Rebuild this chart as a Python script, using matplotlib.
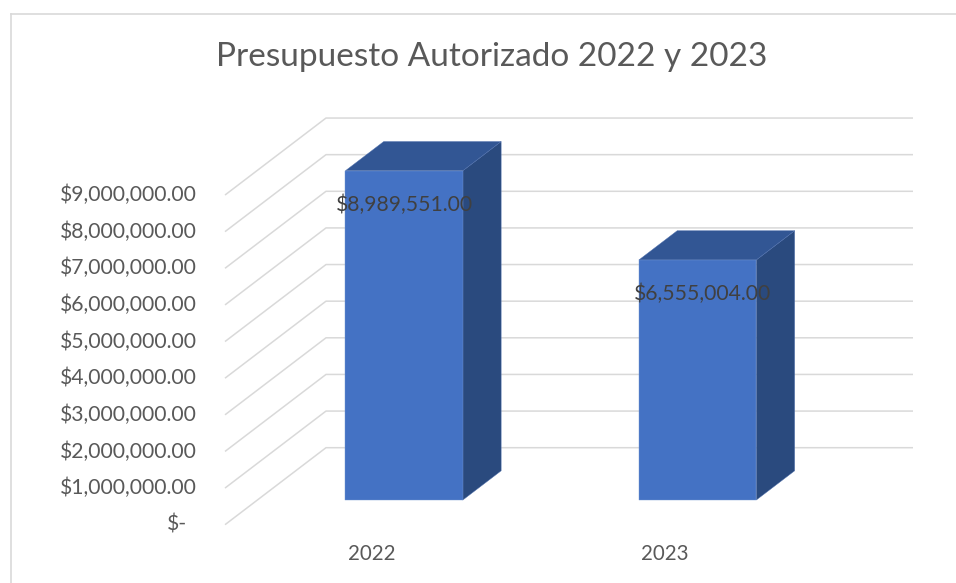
import matplotlib
matplotlib.use("Agg")
import matplotlib.pyplot as plt
from matplotlib.patches import Polygon
from matplotlib.lines import Line2D

# ---- data ----
categories = ["2022", "2023"]
values = [8989551.00, 6555004.00]
value_labels = ["$8,989,551.00", "$6,555,004.00"]
tick_values = [0, 1e6, 2e6, 3e6, 4e6, 5e6, 6e6, 7e6, 8e6, 9e6]
tick_labels = ["$-", "$1,000,000.00", "$2,000,000.00", "$3,000,000.00",
               "$4,000,000.00", "$5,000,000.00", "$6,000,000.00",
               "$7,000,000.00", "$8,000,000.00", "$9,000,000.00"]
title = "Presupuesto Autorizado 2022 y 2023"

# ---- layout (pixel geometry of the oblique projection) ----
W, H = 956, 583
FX0 = 225.0        # pixel x of front-left floor corner
FY0 = 524.7        # pixel y (from top) of value 0 at front
CAT_PX = 293.5     # pixels per category
VAL_PX = 36.63     # pixels per million
DEPTH_DX = 101.0   # pixel shift for full depth
DEPTH_DY = 77.0

fig = plt.figure(figsize=(W / 100, H / 100), dpi=100)
ax = fig.add_axes([0, 0, 1, 1])
ax.set_xlim(-0.5 - FX0 / CAT_PX, -0.5 + (W - FX0) / CAT_PX)
ax.set_ylim((FY0 - H) / VAL_PX * 1e6, FY0 / VAL_PX * 1e6)
ax.axis("off")

DX = DEPTH_DX / CAT_PX          # data x shift per depth unit
DY = DEPTH_DY / VAL_PX * 1e6    # data y shift per depth unit

font = "Lato"
grid_c = "#D9D9D9"
n = len(categories)

# gridlines: side wall diagonals + back wall horizontals
for v in tick_values:
    ax.plot([-0.5, -0.5 + DX, n - 0.5 + DX], [v, v + DY, v + DY],
            color=grid_c, lw=1.1, zorder=1, solid_capstyle="butt")

# y tick labels
for v, lab in zip(tick_values, tick_labels):
    gap = 28 if v != 0 else 38
    ax.text(-0.5 - gap / CAT_PX, v, lab, ha="right", va="center",
            fontsize=15.2, color="#595959", family=font)

# bars
hw = 0.2
d0, d1 = 0.32, 0.70
front_c, top_c, side_c = "#4472C4", "#325694", "#2A4A7E"
for i, v in enumerate(values):
    xl, xr = i - hw, i + hw
    front = [(xl + d0 * DX, d0 * DY), (xr + d0 * DX, d0 * DY),
             (xr + d0 * DX, v + d0 * DY), (xl + d0 * DX, v + d0 * DY)]
    top = [(xl + d0 * DX, v + d0 * DY), (xr + d0 * DX, v + d0 * DY),
           (xr + d1 * DX, v + d1 * DY), (xl + d1 * DX, v + d1 * DY)]
    side = [(xr + d0 * DX, d0 * DY), (xr + d1 * DX, d1 * DY),
            (xr + d1 * DX, v + d1 * DY), (xr + d0 * DX, v + d0 * DY)]
    ax.add_patch(Polygon(side, closed=True, fc=side_c, ec="#4F70AE", lw=0.3, zorder=3))
    ax.add_patch(Polygon(top, closed=True, fc=top_c, ec="#4F70AE", lw=0.3, zorder=3))
    ax.add_patch(Polygon(front, closed=True, fc=front_c, ec="#7396D2", lw=0.3, zorder=4))
    ax.text(i + d0 * DX + 0.017 * i, v + d0 * DY - 34 / VAL_PX * 1e6, value_labels[i],
            ha="center", va="center", fontsize=15.2, color="#404040",
            family=font, zorder=5)

# category labels
for i, c in enumerate(categories):
    ax.text(i, -29.5 / VAL_PX * 1e6, c, ha="center", va="center",
            fontsize=14.8, color="#595959", family=font)

# title
fig.text(491.5 / W, 1 - 66 / H, title, ha="center", va="baseline",
         fontsize=24, color="#595959", family=font)

# chart border
fig.add_artist(Line2D([11 / W, 11 / W], [0, 1 - 13.5 / H], color=grid_c, lw=1.2))
fig.add_artist(Line2D([11 / W, 1], [1 - 13.5 / H, 1 - 13.5 / H], color=grid_c, lw=1.2))

fig.savefig("out.png", dpi=100, facecolor="white")
